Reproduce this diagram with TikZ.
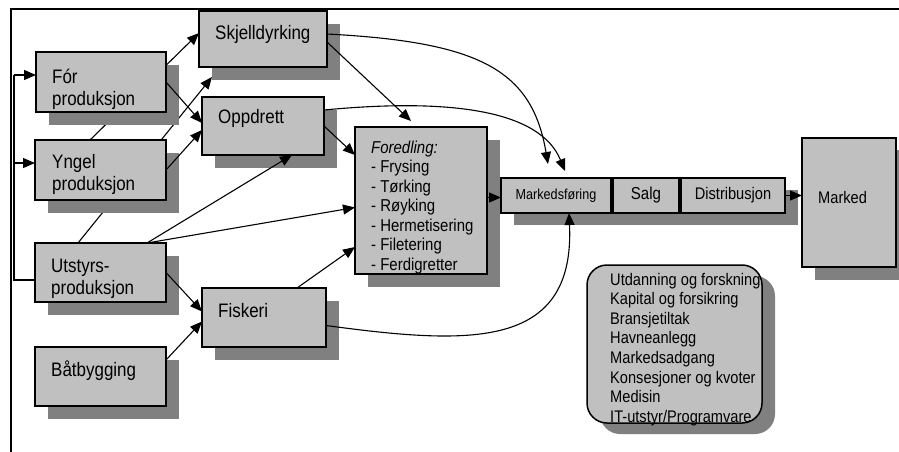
\documentclass[tikz,border=0pt]{standalone}
\usepackage{fontspec}
\setmainfont{Liberation Sans}[FakeStretch=0.87]
\usetikzlibrary{arrows.meta,calc}
\definecolor{boxc}{HTML}{C0C0C0}
\definecolor{shc}{HTML}{808080}
\pgfdeclarelayer{hidden}
\pgfdeclarelayer{shadows}
\pgfdeclarelayer{conns}
\pgfsetlayers{hidden,shadows,conns,main}
\newcommand{\mainfs}{\fontsize{19.5}{22}\selectfont}
\newcommand{\subfs}{\fontsize{16.8}{19.6}\selectfont}
\newcommand{\fdfs}{\fontsize{17.2}{19.5}\selectfont}
\newcommand{\salgfs}{\fontsize{17.3}{20}\selectfont}
\newcommand{\smallfs}{\fontsize{14.5}{17}\selectfont}
\begin{document}
\begin{tikzpicture}[x=1pt,y=-1pt,
  box/.style={draw=black,fill=boxc,line width=1.5pt,rectangle,inner sep=0pt,outer sep=0pt,anchor=north west},
  lbl/.style={inner sep=0pt,anchor=base west,font=\mainfs},
  ctr/.style={inner sep=0pt},
  conn/.style={line width=1.1pt,-{Triangle[length=12pt,width=10pt]}},
  plainline/.style={line width=1.1pt},
  shd/.style={fill=shc}]
\useasboundingbox (0,0) rectangle (899,452);

% boxes
\node[box,minimum width=128pt,minimum height=56pt] (sk) at (199,11) {};
\node[box,minimum width=130pt,minimum height=60pt] (fo) at (36,52) {};
\node[box,minimum width=122pt,minimum height=58pt] (op) at (202,97) {};
\node[box,minimum width=131pt,minimum height=60pt] (yn) at (35,140) {};
\node[box,minimum width=131pt,minimum height=59pt] (ut) at (35,243) {};
\node[box,minimum width=124pt,minimum height=59pt] (fi) at (202,288) {};
\node[box,minimum width=131pt,minimum height=59pt] (ba) at (35,347) {};
\node[box,minimum width=132pt,minimum height=147pt] (fd) at (355,127) {};
\node[box,minimum width=110pt,minimum height=35pt] (mf) at (501,178) {};
\node[box,minimum width=66pt,minimum height=35pt] (sa) at (613,178) {};
\node[box,minimum width=104pt,minimum height=35pt] (di) at (681,178) {};
\node[box,minimum width=94pt,minimum height=129pt] (ma) at (802,138) {};
\node[box,rounded corners=20pt,minimum width=175pt,minimum height=158pt] (rb) at (587,265) {};

% labels
\node[lbl] (sk-t) at (215,40) {Skjelldyrking};
\node[lbl] (fo-t) at (52,83) {\vtop{\hbox{Fór}\hbox{produksjon}}};
\node[lbl] (op-t) at (218,123) {Oppdrett};
\node[lbl] (yn-t) at (52,168) {\vtop{\hbox{Yngel}\hbox{produksjon}}};
\node[lbl] (ut-t) at (51,272) {\vtop{\hbox{Utstyrs-}\hbox{produksjon}}};
\node[lbl] (fi-t) at (218,317) {Fiskeri};
\node[lbl] (ba-t) at (51,376) {Båtbygging};
\node[lbl,font=\fdfs] (fd-t) at (371,153) {\vtop{\hbox{\itshape Foredling:}\hbox{- Frysing}\hbox{- Tørking}\hbox{- Røyking}\hbox{- Hermetisering}\hbox{- Filetering}\hbox{- Ferdigretter}}};
\node[ctr,font=\smallfs] (mf-t) at (mf.center) {Markedsføring};
\node[ctr,font=\salgfs] (sa-t) at (sa.center) {Salg};
\node[ctr,font=\subfs] (di-t) at (di.center) {Distribusjon};
\node[lbl,font=\subfs] (ma-t) at (818,203) {Marked};
\node[lbl,font=\subfs] (rb-t) at (610,285) {\vtop{\hbox{Utdanning og forskning}\hbox{Kapital og forsikring}\hbox{Bransjetiltak}\hbox{Havneanlegg}\hbox{Markedsadgang}\hbox{Konsesjoner og kvoter}\hbox{Medisin}\hbox{IT-utstyr/Programvare}}};

% shadows
\begin{pgfonlayer}{shadows}
\foreach \n in {sk,fo,op,yn,ut,fi,ba,fd}
  \fill[shd] ($(\n.north west)+(13,13)$) rectangle ($(\n.south east)+(13,13)$);
\fill[shd] ($(mf.north west)+(13,12)$) rectangle ($(di.south east)+(13,12)$);
\fill[shd] ($(ma.north west)+(13,12)$) rectangle ($(ma.south east)+(13,13)$);
\fill[shd,rounded corners=20pt] ($(rb.north west)+(13,11)$) rectangle ($(rb.south east)+(13,11)$);
\end{pgfonlayer}

% connectors passing behind boxes
\begin{pgfonlayer}{hidden}
\draw[conn] ($(yn.north west)+(55,0)$) -- ($(sk.north west)+(0,22)$);
\draw[conn] ($(ut.north west)+(43,0)$) -- ($(sk.south west)+(13,10)$);
\end{pgfonlayer}

% visible connectors
\begin{pgfonlayer}{conns}
\draw[conn] (fo.east) -- ($(op.west)+(0,-3)$);
\draw[conn] (yn.east) -- ($(op.west)+(0,4)$);
\draw[conn] ($(ut.north west)+(112,0)$) -- ($(op.south west)+(90,0)$);
\draw[conn] ($(ut.north west)+(112,0)$) -- ($(fd.west)+(0,7)$);
\draw[conn] (ut.east) -- ($(fi.west)+(0,-6)$);
\draw[conn] ($(ba.north east)+(0,13)$) -- ($(fi.west)+(0,4)$);
\draw[conn] ($(fi.north west)+(95,0)$) -- ($(fd.south west)+(0,-27)$);
\draw[conn] (op.east) -- ($(fd.north west)+(0,28)$);
\draw[conn] ($(sk.east)+(0,3)$) -- ($(fd.north west)+(56,-6)$);
\draw[conn] ($(sk.north east)+(0,23)$) .. controls (480,42) and (532,70) .. ($(mf.north west)+(47,-14)$);
\draw[conn] ($(op.north east)+(0,13)$) .. controls (450,98) and (540,110) .. ($(mf.north west)+(64,-7)$);
\draw[conn] ($(fi.east)+(0,8)$) .. controls (470,345) and (575,350) .. ($(mf.south west)+(68,0)$);
\draw[conn] ($(fd.east)+(0,-3)$) -- ($(mf.west)+(0,2)$);
\draw[conn] (di.east) -- (di.east -| ma.west);
% feed bus
\coordinate (bt) at (14,75);
\coordinate (bm) at (14,163);
\coordinate (bb) at (14,280);
\draw[plainline] (bt) -- (bb) -- (bb -| ut.west);
\draw[conn] (bt) -- (bt -| fo.west);
\draw[conn] (bm) -- (bm -| yn.west);
% frame
\coordinate (f1) at (11,452);
\coordinate (f2) at (11,9);
\coordinate (f3) at (899,9);
\draw[line width=2pt] (f1) -- (f2) -- (f3);
\end{pgfonlayer}
\end{tikzpicture}
\end{document}
